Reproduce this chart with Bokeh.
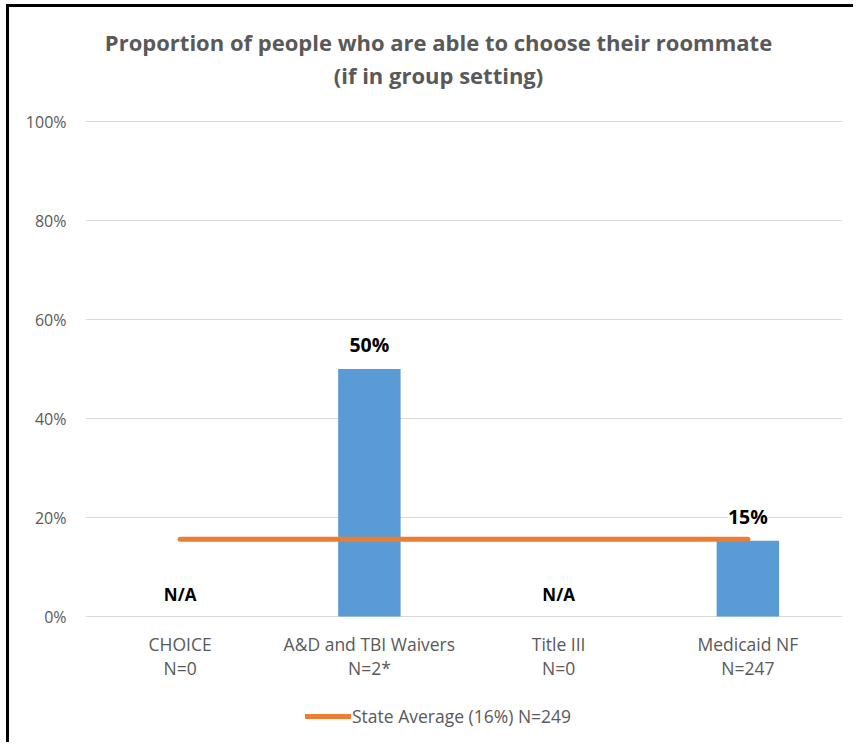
from bokeh.plotting import figure
from bokeh.models import (ColumnDataSource, FactorRange, Range1d, NumeralTickFormatter,
                          LabelSet, Label, Legend, LegendItem, FixedTicker)
from bokeh.core.properties import value
from bokeh.embed import file_html
from bokeh.resources import INLINE
import math

categories = ["CHOICE", "A&D and TBI Waivers", "Title III", "Medicaid NF"]
n_labels = ["N=0", "N=2*", "N=0", "N=247"]
values = [None, 0.50, None, 0.153]
state_avg = 0.156
legend_text = "State Average (16%) N=249"
title_lines = ["Proportion of people who are able to choose their roommate", "(if in group setting)"]
y_ticks = [0, 0.2, 0.4, 0.6, 0.8, 1.0]

FONT = "Open Sans"
GRAY = "#595959"

W, H = 847, 738
PX_PER_UNIT = 495.0           # vertical pixels per 100%
ZERO_PX = 609                 # canvas row of the 0% line

tops = [v if v is not None else math.nan for v in values]
label_txt = [f"{round(v*100):.0f}%" if v is not None else "N/A" for v in values]
label_fs = ["19.5px" if v is not None else "17px" for v in values]
label_y = [v if v is not None else 0 for v in values]

src = ColumnDataSource(dict(x=categories, n=n_labels, top=tops, ly=label_y, lt=label_txt,
                            fs=label_fs, zero=[0] * len(categories)))

y_top = ZERO_PX / PX_PER_UNIT
y_bot = -(H - ZERO_PX) / PX_PER_UNIT

p = figure(width=W, height=H, x_range=FactorRange(*categories, range_padding=0),
           y_range=Range1d(y_bot, y_top), output_backend="svg", toolbar_location=None,
           min_border_left=76, min_border_right=14, min_border_top=0, min_border_bottom=0)
p.outline_line_color = None
p.background_fill_color = "white"
p.border_fill_color = "white"
p.styles = {"margin-left": "6px", "margin-top": "4px",
            "border-left": "3px solid black", "border-top": "3px solid black"}

# title lines (screen units: x from the plot area's left, y from the canvas bottom)
for txt, yc in zip(title_lines, [H - 34, H - 67]):
    p.add_layout(Label(x=353, y=yc, x_units="screen", y_units="screen", text=txt,
                       text_align="center", text_baseline="middle", text_font=FONT,
                       text_font_size="22px", text_font_style="bold", text_color=GRAY))

p.vbar(x="x", top="top", width=0.33, source=src, color="#5B9BD5", line_color=None)

avg_src = ColumnDataSource(dict(x=[categories[0], categories[-1]], y=[state_avg, state_avg]))
avg = p.line(x="x", y="y", source=avg_src, line_color="#ED7D31", line_width=5,
             line_cap="round")

labels = LabelSet(x="x", y="ly", text="lt", source=src, text_align="center",
                  text_baseline="bottom", y_offset=11, text_font=value(FONT),
                  text_font_size="fs", text_font_style="bold", text_color="black",
                  background_fill_color="white")
p.add_layout(labels)

# category labels under the 0% line
for col, off in (("x", -27), ("n", -51)):
    p.add_layout(LabelSet(x="x", y="zero", text=col, source=src, text_align="center",
                          text_baseline="middle", y_offset=off, text_font=value(FONT),
                          text_font_size="17.5px", text_color=GRAY))

p.yaxis.ticker = FixedTicker(ticks=y_ticks)
p.yaxis.formatter = NumeralTickFormatter(format="0%")
p.yaxis.axis_line_color = None
p.yaxis.major_tick_line_color = None
p.yaxis.minor_tick_line_color = None
p.yaxis.major_label_text_font = FONT
p.yaxis.major_label_text_font_size = "16px"
p.yaxis.major_label_text_color = GRAY
p.yaxis.major_label_standoff = 13

p.xaxis.visible = False
p.xgrid.grid_line_color = None
p.ygrid.grid_line_color = "#D9D9D9"
p.ygrid.grid_line_width = 1

legend = Legend(items=[LegendItem(label=legend_text, renderers=[avg])],
                location=(220, 17), orientation="horizontal",
                glyph_width=46, label_standoff=1, border_line_color=None,
                background_fill_alpha=0, label_text_font=FONT,
                label_text_font_size="17.5px", label_text_color=GRAY,
                padding=0, margin=0)
p.add_layout(legend)

open("out.html", "w").write(file_html(p, INLINE))
